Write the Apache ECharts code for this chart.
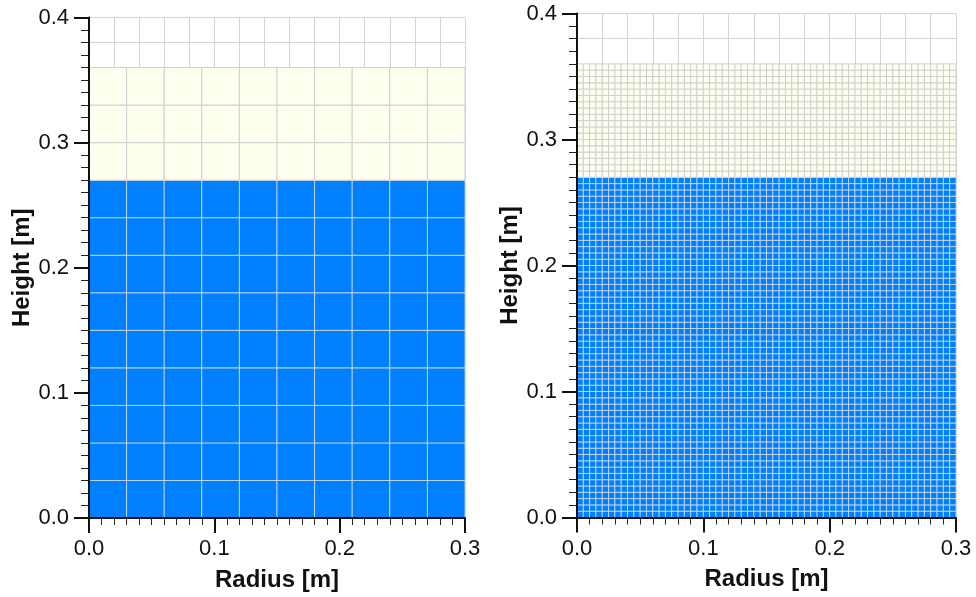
<!DOCTYPE html>
<html lang="en">
<head>
    <meta charset="UTF-8">
    <title>Mesh</title>
    <script src="https://cdn.jsdelivr.net/npm/echarts@6/dist/echarts.min.js"></script>
    <style>
        html, body { margin: 0; height: 100%; background: #fff; }
    </style>
</head>
<body>
<div id="main" style="width: 976px;height: 597px"></div>
<script>
    // domain and tick labels
    const radiusRange = [0, 0.3];
    const heightRange = [0, 0.4];
    const majorStep = 0.1;
    const backgroundStep = 0.02;

    // fluid layers: water at the bottom, air above it
    const layerNames = ['Water', 'Air'];
    const layerBottom = [0, 0.27];
    const layerTop = [0.27, 0.36];

    // mesh cell size [dr, dz] for each panel
    const coarseCell = [0.03, 0.03];
    const fineCell = [0.005, 0.005];

    const layerColors = ['#0080ff', '#fffff0'];
    const cellLine = ['rgba(228,228,228,0.7)', '#d0d0d0'];

    // build the cells of a mesh (r0, z0, r1, z1, layer)
    function buildCells(cell) {
        let cells = [];
        let nr = Math.round((radiusRange[1] - radiusRange[0]) / cell[0]);
        for (let k = 0; k < layerNames.length; k++) {
            let nz = Math.round((layerTop[k] - layerBottom[k]) / cell[1]);
            for (let j = 0; j < nz; j++) {
                for (let i = 0; i < nr; i++) {
                    let r0 = radiusRange[0] + i * cell[0];
                    let z0 = layerBottom[k] + j * cell[1];
                    cells.push([r0, z0, r0 + cell[0], z0 + cell[1], k]);
                }
            }
        }
        return cells;
    }

    function renderCell(params, api) {
        let p0 = api.coord([api.value(0), api.value(1)]);
        let p1 = api.coord([api.value(2), api.value(3)]);
        let k = api.value(4);
        return {
            type: 'rect',
            shape: { x: p0[0], y: p1[1], width: p1[0] - p0[0], height: p0[1] - p1[1] },
            style: { fill: layerColors[k], stroke: cellLine[k], lineWidth: 1 }
        };
    }

    let font = 'Liberation Sans, Arial, sans-serif';

    function mainX(gridIndex) {
        return {
            type: 'value', gridIndex: gridIndex, z: 10,
            min: radiusRange[0], max: radiusRange[1], interval: majorStep,
            name: 'Radius [m]', nameLocation: 'middle', nameGap: 50,
            nameTextStyle: { fontSize: 24, fontWeight: 'bold', color: '#111', fontFamily: font },
            axisLine: { lineStyle: { color: '#111', width: 2 } },
            axisTick: { show: true, length: 15, lineStyle: { color: '#111', width: 2 } },
            minorTick: { show: true, splitNumber: 10, length: 7, lineStyle: { color: '#222', width: 1 } },
            axisLabel: { fontSize: 22, color: '#111', fontFamily: font, margin: 20,
                formatter: v => v.toFixed(1) },
            splitLine: { show: false }
        };
    }

    function mainY(gridIndex) {
        return {
            type: 'value', gridIndex: gridIndex, z: 10,
            min: heightRange[0], max: heightRange[1], interval: majorStep,
            name: 'Height [m]', nameLocation: 'middle', nameGap: 54,
            nameTextStyle: { fontSize: 24, fontWeight: 'bold', color: '#111', fontFamily: font },
            axisLine: { lineStyle: { color: '#111', width: 2 } },
            axisTick: { show: true, length: 15, lineStyle: { color: '#111', width: 2 } },
            minorTick: { show: true, splitNumber: 10, length: 8, lineStyle: { color: '#222', width: 1 } },
            axisLabel: { fontSize: 22, color: '#111', fontFamily: font, margin: 20,
                formatter: v => v.toFixed(1) },
            splitLine: { show: false }
        };
    }

    // hidden axes that only draw the light background grid
    function bgAxis(gridIndex, range) {
        return {
            type: 'value', gridIndex: gridIndex, z: 0,
            min: range[0], max: range[1], interval: backgroundStep,
            axisLine: { show: false }, axisTick: { show: false }, axisLabel: { show: false },
            splitLine: { show: true, lineStyle: { color: '#d4d4d4', width: 1 } }
        };
    }

    let chart = echarts.init(document.getElementById('main'));
    let option = {
        animation: false,
        grid: [
            { left: 89, right: 511, top: 17.5, bottom: 78.5 },
            { left: 577, right: 20, top: 13.5, bottom: 79.5 }
        ],
        xAxis: [mainX(0), bgAxis(0, radiusRange), mainX(1), bgAxis(1, radiusRange)],
        yAxis: [mainY(0), bgAxis(0, heightRange), mainY(1), bgAxis(1, heightRange)],
        series: [
            {
                type: 'custom', name: 'coarse', xAxisIndex: 0, yAxisIndex: 0,
                renderItem: renderCell, encode: { x: [0, 2], y: [1, 3] },
                data: buildCells(coarseCell), silent: true
            },
            {
                type: 'custom', name: 'fine', xAxisIndex: 2, yAxisIndex: 2,
                renderItem: renderCell, encode: { x: [0, 2], y: [1, 3] },
                data: buildCells(fineCell), silent: true
            }
        ]
    };
    chart.setOption(option);
</script>
</body>
</html>
